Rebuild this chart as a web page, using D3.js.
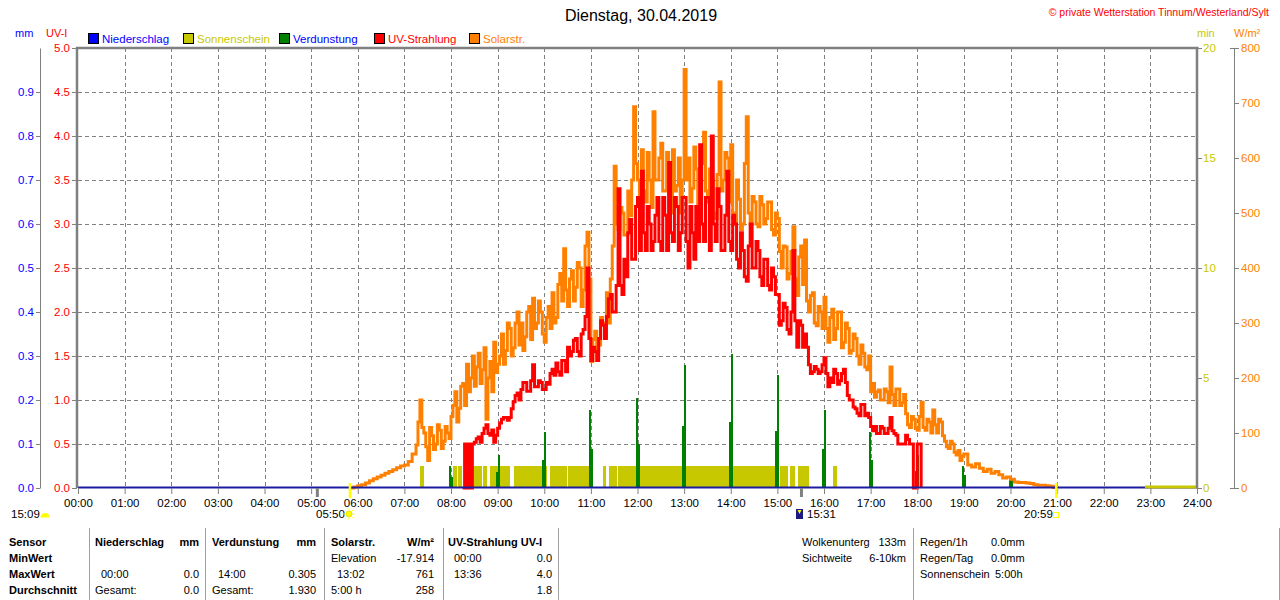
<!DOCTYPE html>
<html><head><meta charset="utf-8">
<script src="https://cdn.jsdelivr.net/npm/d3@7"></script>
<style>
body{margin:0;background:#fff;}
svg{display:block;font-family:"Liberation Sans",Arial,sans-serif;}
</style></head><body>
<svg id="c" width="1280" height="600"></svg>
<script>
// ---------- DATA ----------
const chartTitle = "Dienstag, 30.04.2019";
const copyright = "\u00A9 private Wetterstation Tinnum/Westerland/Sylt";
const hourTicks = ["00:00","01:00","02:00","03:00","04:00","05:00","06:00","07:00","08:00","09:00","10:00","11:00","12:00","13:00","14:00","15:00","16:00","17:00","18:00","19:00","20:00","21:00","22:00","23:00","24:00"];
const mmTicks = [0.0,0.1,0.2,0.3,0.4,0.5,0.6,0.7,0.8,0.9];
const uvTicks = [0.0,0.5,1.0,1.5,2.0,2.5,3.0,3.5,4.0,4.5,5.0];
const minTicks = [0,5,10,15,20];
const solTicks = [0,100,200,300,400,500,600,700,800];

// Solar radiation W/m², every 5 min from 05:50
const solarStart = "05:50";
const solarStep = 5;
const solar = [
  0,2,4,6,9,13,17,20,23,27,30,33,37,40,
  42,48,62,78,160,100,50,95,80,105,85,100,
  130,175,145,190,225,200,185,245,215,125,230,265,
  225,280,250,290,255,320,300,275,330,345,300,320,
  265,330,355,310,390,435,330,395,365,400,360,465,
  230,285,260,300,355,380,585,470,500,460,495,693,
  560,615,520,560,684,560,627,540,580,615,550,500,
  761,600,545,580,540,647,520,560,490,738,560,600,
  624,480,525,480,675,480,520,475,515,490,520,460,
  490,400,438,390,475,350,440,451,320,355,295,320,
  347,265,325,290,320,265,290,250,272,225,245,215,
  175,165,178,160,175,220,150,180,155,135,110,125,
  105,156,105,120,142,100,120,85,72,80,60,50,
  62,42,38,44,36,30,34,27,30,24,18,20,
  16,11,10,10,9,8,6,5,5,4,3,1,
  0
];
// Solar readings between the 5-min points (at hh:mm+2.5), 07:17.5 .. 18:57.5
const solarMidStart = 437.5;
const solarMid = [
  120,110,75,110,70,115,72,112,90,
  150,120,185,150,175,240,220,190,255,200,175,210,
  240,225,300,240,300,260,250,320,270,290,340,280,
  310,290,300,370,340,360,380,340,410,330,440,380,
  270,250,310,275,300,440,480,510,460,540,560,590,
  520,540,610,510,560,600,540,610,500,540,600,560,
  560,520,620,500,590,540,580,500,570,540,610,520,
  500,560,470,590,500,530,480,530,480,520,470,500,
  430,440,380,430,380,420,370,340,350,300,330,290,
  290,310,270,320,255,300,245,280,240,260,220,240,
  190,175,160,180,155,170,180,150,170,115,130,108,
  130,110,125,100,115,125,95,75,85,65,68,58
];

// UV index, every 5 min from 08:15
const uvStart = "08:15";
const uvStep = 5;
const uv = [
  0,
  0,0,0.52,0.58,0.62,0.72,0.6,0.52,
  0.68,0.78,0.8,0.8,0.98,1.08,1.12,1.2,1.1,1.4,1.15,1.2,
  1.12,1.18,1.35,1.42,1.28,1.45,1.6,1.55,1.7,1.5,1.8,2.5,
  1.45,1.55,1.7,1.85,1.95,2.2,2.0,3.4,2.2,2.4,3.05,2.6,
  3.3,3.6,2.7,3.0,2.8,3.3,2.7,3.1,3.7,2.8,3.2,2.9,
  3.3,2.5,2.9,3.2,3.9,2.8,3.3,4.0,2.8,3.2,2.7,3.6,
  2.7,3.0,2.5,2.7,2.35,3.0,2.5,2.7,2.3,2.6,2.25,2.4,
  2.2,1.9,2.05,1.75,2.7,1.6,1.85,1.75,1.4,1.32,1.35,1.32,
  1.48,1.15,1.2,1.3,1.22,1.35,1.05,1.0,0.9,0.82,0.95,0.85,
  0.7,0.7,0.62,0.68,0.62,0.8,0.62,0.5,0.5,0.6,0.5,0,
  0.5,0
];
// UV readings between the 5-min points (at hh:mm+2.5), 08:17.5 .. 17:52.5
const uvMidStart = 497.5;
const uvMid = [
  0.5,0.5,0.5,
  0.56,0.52,0.68,0.62,0.66,0.6,
  0.74,0.8,0.77,0.9,1.05,1.0,1.2,1.1,1.22,1.15,1.22,1.12,
  1.2,1.3,1.28,1.32,1.45,1.32,1.5,1.68,1.55,1.75,1.95,1.7,
  1.6,1.45,1.9,1.7,2.15,2.0,2.3,2.3,2.6,2.9,2.6,3.2,
  2.7,2.9,3.2,2.7,3.1,2.8,3.3,2.7,2.9,3.3,2.7,3.3,
  2.8,3.2,2.6,2.8,3.0,3.3,2.7,3.0,3.4,2.7,3.1,2.8,
  3.1,2.6,2.9,2.4,2.75,2.5,2.8,2.4,2.6,2.3,2.5,2.2,
  1.85,2.1,1.8,2.0,1.9,1.9,1.6,1.6,1.3,1.38,1.3,1.4,
  1.3,1.25,1.35,1.18,1.3,1.2,1.0,0.92,0.85,0.95,0.82,0.8,
  0.65,0.62,0.7,0.62,0.68,0.65,0.6,0.5,0.5,0.55,0.5
];

// Evaporation (mm), two sub-bars per hour
const evapHours = ["08:00","09:00","10:00","11:00","12:00","13:00","14:00","15:00","16:00","17:00","18:00","19:00","20:00"];
const evapLeft  = [0.05,0.036,0.064,0.177,0.205,0.14,0.15,0.13,0.089,0.127,0.039,0.05,0.027];
const evapRight = [0.025,0.075,0.127,0.089,0.10,0.28,0.305,0.257,0.177,0.064,0.075,0.03,0.018];

// Sunshine (min)
const sunStart = ["07:20","08:03","08:09","08:18","08:41","08:50","09:21","10:08","10:31","11:16","11:23","11:35","15:03","15:16","15:27","16:12"];
const sunEnd   = ["07:25","08:08","08:14","08:40","08:46","09:16","10:03","10:29","11:00","11:20","11:34","15:00","15:14","15:23","15:41","16:17"];
const sunVal   = [1,1,1,1,1,1,1,1,1,1,1,1,1,1,1,1];
const sunZeroStart = "22:53", sunZeroEnd = "24:00";

// Precipitation (mm)
const precipTimes = ["00:00","24:00"];
const precip = [0,0];

// Astronomical markers
const moonTimes = ["05:08","15:31"];
const sunTimes = ["05:50","20:59"];

// Table
const tableLines = [
  ["Sensor","b",9,"start",0],["Niederschlag","b",95,"start",0],["mm","b",199,"end",0],
  ["Verdunstung","b",212,"start",0],["mm","b",316,"end",0],["Solarstr.","b",331,"start",0],
  ["W/m\u00B2","b",434,"end",0],["UV-Strahlung UV-I","b",448,"start",0],
  ["MinWert","b",9,"start",1],["Elevation","n",331,"start",1],["-17.914","n",434,"end",1],
  ["00:00","n",454,"start",1],["0.0","n",552,"end",1],
  ["MaxWert","b",9,"start",2],["00:00","n",101,"start",2],["0.0","n",199,"end",2],
  ["14:00","n",218,"start",2],["0.305","n",316,"end",2],["13:02","n",337,"start",2],
  ["761","n",434,"end",2],["13:36","n",454,"start",2],["4.0","n",552,"end",2],
  ["Durchschnitt","b",9,"start",3],["Gesamt:","n",95,"start",3],["0.0","n",199,"end",3],
  ["Gesamt:","n",212,"start",3],["1.930","n",316,"end",3],["5:00 h","n",331,"start",3],
  ["258","n",434,"end",3],["1.8","n",552,"end",3],
  ["Wolkenunterg","n",802,"start",0],["133m","n",906,"end",0],
  ["Sichtweite","n",802,"start",1],["6-10km","n",906,"end",1],
  ["Regen/1h","n",920,"start",0],["0.0mm","n",991,"start",0],
  ["Regen/Tag","n",920,"start",1],["0.0mm","n",991,"start",1],
  ["Sonnenschein","n",920,"start",2],["5:00h","n",995,"start",2]
];
const tableSeps = [89,205,324,443,558,913,1279];
const rowBase = [546,562,578,594];

// ---------- HELPERS ----------
const tm = s => { const p = s.split(":").map(Number); return p[0]*60+p[1]; };
const pad = d3.format("02d");
const fmtHM = m => pad(Math.floor(m/60))+":"+pad(m%60);

const C = {grid:"#808080", blue:"#0000ff", red:"#ff0000", orange:"#ff8000", olive:"#c8c800", green:"#008000", navy:"#1c1ca0"};

const svg = d3.select("#c");
const X0=78, X1=1197, Y0=488, Y1=48;
const x = d3.scaleLinear().domain([0,1440]).range([X0,X1]);
const yUV = d3.scaleLinear().domain([0,5]).range([Y0,Y1]);
const yMM = d3.scaleLinear().domain([0,1]).range([Y0,Y1]);
const yMin = d3.scaleLinear().domain([0,20]).range([Y0,Y1]);
const ySol = d3.scaleLinear().domain([0,800]).range([Y0,Y1]);

// ---------- GRID ----------
const grid = svg.append("g").attr("stroke",C.grid).attr("stroke-width",1)
  .attr("stroke-dasharray","4,3").attr("shape-rendering","crispEdges");
grid.selectAll("line.v").data(hourTicks.slice(1,-1)).join("line")
  .attr("x1",d=>Math.round(x(tm(d)))+0.5).attr("x2",d=>Math.round(x(tm(d)))+0.5)
  .attr("y1",Y1).attr("y2",Y0);
grid.selectAll("line.h").data(uvTicks.slice(1,-1)).join("line")
  .attr("x1",X0).attr("x2",X1)
  .attr("y1",d=>Math.round(yUV(d))+0.5).attr("y2",d=>Math.round(yUV(d))+0.5);

// ---------- SUNSHINE BARS ----------
svg.append("g").attr("fill",C.olive).attr("shape-rendering","crispEdges")
  .selectAll("rect").data(sunStart.map((s,i)=>({s:tm(s),e:tm(sunEnd[i]),v:sunVal[i]}))).join("rect")
  .attr("x",d=>x(d.s)).attr("width",d=>x(d.e)-x(d.s))
  .attr("y",d=>yMin(d.v)).attr("height",d=>yMin(0)-yMin(d.v));

// ---------- EVAPORATION BARS ----------
const ev = svg.append("g").attr("fill",C.green).attr("shape-rendering","crispEdges");
ev.selectAll("rect.l").data(evapHours.map((h,i)=>({t:tm(h),v:evapLeft[i]}))).join("rect")
  .attr("x",d=>x(d.t)-2).attr("width",2)
  .attr("y",d=>yMM(d.v)).attr("height",d=>yMM(0)-yMM(d.v));
ev.selectAll("rect.r").data(evapHours.map((h,i)=>({t:tm(h),v:evapRight[i]}))).join("rect")
  .attr("x",d=>x(d.t)).attr("width",2)
  .attr("y",d=>yMM(d.v)).attr("height",d=>yMM(0)-yMM(d.v));

// ---------- SOLAR & UV LINES ----------
const solarData = solar.map((v,i)=>({t:tm(solarStart)+i*solarStep, v}))
  .concat(solarMid.map((v,i)=>({t:solarMidStart+i*solarStep, v})))
  .sort((a,b)=>a.t-b.t);
const uvData = uv.map((v,i)=>({t:tm(uvStart)+i*uvStep, v}))
  .concat(uvMid.map((v,i)=>({t:uvMidStart+i*uvStep, v})))
  .sort((a,b)=>a.t-b.t);
svg.append("path").datum(solarData)
  .attr("d", d3.line().x(d=>x(d.t)).y(d=>ySol(d.v)).curve(d3.curveStepAfter))
  .attr("fill","none").attr("stroke",C.orange).attr("stroke-width",3).attr("stroke-linejoin","miter");
svg.append("path").datum(uvData)
  .attr("d", d3.line().x(d=>x(d.t)).y(d=>yUV(d.v)).curve(d3.curveStepAfter))
  .attr("fill","none").attr("stroke",C.red).attr("stroke-width",3).attr("stroke-linejoin","miter");

// ---------- PRECIP LINE ----------
svg.append("path").datum(precipTimes.map((t,i)=>({t:tm(t),v:precip[i]})))
  .attr("d", d3.line().x(d=>x(d.t)).y(d=>yMM(d.v)-0.5))
  .attr("fill","none").attr("stroke",C.navy).attr("stroke-width",2);
svg.append("rect").attr("fill",C.olive)
  .attr("x",x(tm(sunZeroStart))).attr("width",x(tm(sunZeroEnd))-x(tm(sunZeroStart)))
  .attr("y",yMin(0)-2.5).attr("height",3);

// ---------- AXES ----------
function styleAxis(g,color){
  g.selectAll(".tick line").attr("stroke",C.grid);
  g.selectAll(".tick text").attr("fill",color).style("font-size","11.5px").style("font-family","'Liberation Sans',Arial,sans-serif");
  g.select(".domain").attr("stroke",C.grid);
}
const gMM = svg.append("g").attr("transform","translate(40,0)")
  .call(d3.axisLeft(yMM).tickValues(mmTicks).tickFormat(d3.format(".1f")).tickSize(4).tickSizeOuter(0).tickPadding(2));
styleAxis(gMM,C.blue);
const gUV = svg.append("g").attr("transform","translate(77,0)")
  .call(d3.axisLeft(yUV).tickValues(uvTicks).tickFormat(d3.format(".1f")).tickSize(5).tickSizeOuter(0).tickPadding(2));
styleAxis(gUV,C.red); gUV.select(".domain").remove();
const gMin = svg.append("g").attr("transform","translate(1197,0)")
  .call(d3.axisRight(yMin).tickValues(minTicks).tickSize(5).tickSizeOuter(0).tickPadding(1));
styleAxis(gMin,C.olive); gMin.select(".domain").remove();
const gSol = svg.append("g").attr("transform","translate(1234,0)")
  .call(d3.axisRight(ySol).tickValues(solTicks).tickSize(5).tickSizeOuter(0).tickPadding(2));
styleAxis(gSol,C.orange);
svg.append("g").attr("stroke",C.grid).selectAll("line").data([0,800]).join("line")
  .attr("x1",1230).attr("x2",1234).attr("y1",d=>ySol(d)+0.5).attr("y2",d=>ySol(d)+0.5);
const gX = svg.append("g").attr("transform",`translate(0,${Y0})`)
  .call(d3.axisBottom(x).tickValues(hourTicks.map(tm)).tickFormat(fmtHM).tickSize(6).tickPadding(5));
styleAxis(gX,"#000"); gX.select(".domain").remove();

// frame
const fr = svg.append("g").attr("stroke",C.grid).attr("stroke-width",2.5);
fr.append("line").attr("x1",76).attr("x2",1198.5).attr("y1",48).attr("y2",48);
fr.append("line").attr("x1",77).attr("x2",77).attr("y1",47).attr("y2",Y0);
fr.append("line").attr("x1",1197).attr("x2",1197).attr("y1",47).attr("y2",Y0);

// moon / sun markers
svg.append("g").attr("stroke",C.grid).attr("stroke-width",3).selectAll("line").data(moonTimes).join("line")
  .attr("x1",d=>x(tm(d))).attr("x2",d=>x(tm(d))).attr("y1",Y0).attr("y2",497);
svg.append("g").attr("stroke","#ffff00").attr("stroke-width",2.5).selectAll("line").data(sunTimes).join("line")
  .attr("x1",d=>x(tm(d))).attr("x2",d=>x(tm(d))).attr("y1",483).attr("y2",498);

// ---------- TEXTS ----------
svg.append("text").attr("x",641).attr("y",21).attr("text-anchor","middle")
  .style("font-size","16px").attr("fill","#000").text(chartTitle);
svg.append("text").attr("x",1269).attr("y",16).attr("text-anchor","end")
  .style("font-size","10.5px").attr("fill",C.red).text(copyright);

const units = [["mm",15,"start",C.blue],["UV-I",46,"start",C.red],["min",1197,"start",C.olive],["W/m\u00B2",1234,"start",C.orange]];
svg.append("g").selectAll("text").data(units).join("text")
  .attr("x",d=>d[1]).attr("y",37).attr("text-anchor",d=>d[2]).attr("fill",d=>d[3])
  .style("font-size","11px").text(d=>d[0]);

const legend = [["Niederschlag",88,C.blue,C.blue],["Sonnenschein",183,C.olive,C.olive],["Verdunstung",279,C.green,C.blue],["UV-Strahlung",374,C.red,C.red],["Solarstr.",469,C.orange,C.orange]];
const lg = svg.append("g").selectAll("g").data(legend).join("g");
lg.append("rect").attr("x",d=>d[1]+0.5).attr("y",33.5).attr("width",10).attr("height",10)
  .attr("fill",d=>d[2]).attr("stroke","#000").attr("stroke-width",1);
lg.append("text").attr("x",d=>d[1]+14).attr("y",42.5).attr("fill",d=>d[3])
  .style("font-size","11.5px").text(d=>d[0]);

// astro labels
const astro = [["15:09",11],["05:50",316],["15:31",807],["20:59",1024]];
svg.append("g").selectAll("text").data(astro).join("text")
  .attr("x",d=>d[1]).attr("y",518).attr("fill","#000").style("font-size","11.5px").text(d=>d[0]);
// icons
svg.append("path").attr("d","M40.5,517.5 A4.5,4.5 0 0 1 49.5,517.5 Z").attr("fill","#ffff00");
const sunIc = svg.append("g").attr("transform","translate(349,514)");
sunIc.append("circle").attr("r",3).attr("fill","#ffff00").attr("stroke","#f0e000");
sunIc.selectAll("line").data(d3.range(8)).join("line")
  .attr("x1",d=>4*Math.cos(d*Math.PI/4)).attr("y1",d=>4*Math.sin(d*Math.PI/4))
  .attr("x2",d=>5.5*Math.cos(d*Math.PI/4)).attr("y2",d=>5.5*Math.sin(d*Math.PI/4))
  .attr("stroke","#ffff00").attr("stroke-width",1);
svg.append("rect").attr("x",796).attr("y",509).attr("width",7).attr("height",10).attr("fill","#1a1a80");
svg.append("path").attr("d","M797.5,510 L801.5,510 L799.5,514 Z").attr("fill","#ffff00");
svg.append("rect").attr("x",1053.5).attr("y",512.5).attr("width",5).attr("height",5)
  .attr("fill","none").attr("stroke","#ffff00").attr("stroke-width",1);

// table
svg.append("g").attr("stroke","#a0a0a0").selectAll("line").data(tableSeps).join("line")
  .attr("x1",d=>d+0.5).attr("x2",d=>d+0.5).attr("y1",528).attr("y2",600);
svg.append("g").selectAll("text").data(tableLines).join("text")
  .attr("x",d=>d[2]).attr("y",d=>rowBase[d[4]]).attr("text-anchor",d=>d[3])
  .attr("font-weight",d=>d[1]==="b"?"bold":"normal").attr("fill","#000")
  .style("font-size","11px").text(d=>d[0]);
</script>
</body></html>
